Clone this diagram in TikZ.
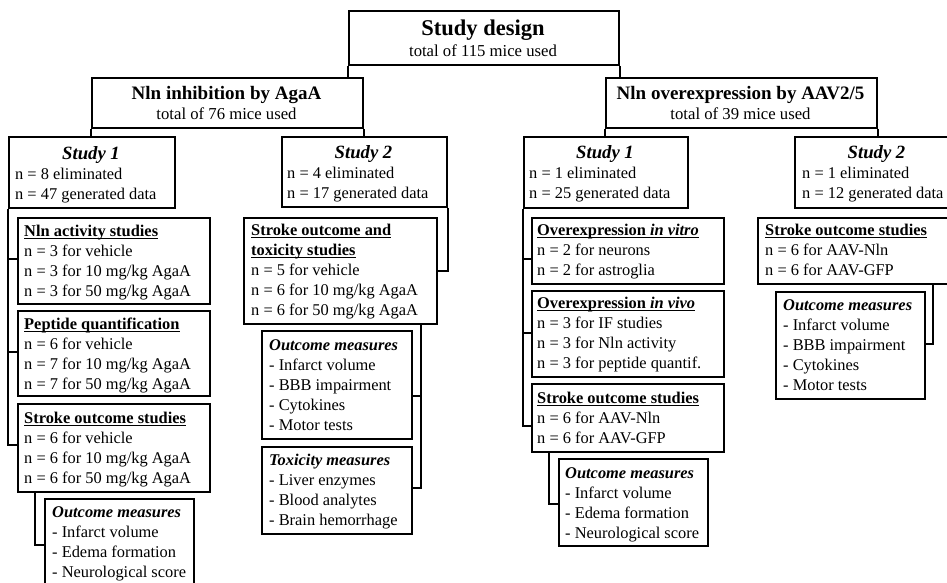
\documentclass[tikz,border=0pt]{standalone}
\usepackage{fontspec}
\setmainfont{Liberation Serif}
\newcommand\ulx[1]{\setbox0\hbox{#1}\rlap{\rule[-2.6pt]{\wd0}{1pt}}\box0}
\begin{document}
\begin{tikzpicture}[x=1pt,y=-1pt,
 box/.style={draw, line width=1.8pt, inner sep=0pt, anchor=north west},
 conn/.style={line width=1.6pt},
 body/.style={inner sep=0pt, anchor=north west, align=left, font=\fontsize{16.4}{20}\selectfont},
 ttl/.style={inner sep=0pt, anchor=base, font=\fontsize{18.7}{20}\selectfont\bfseries\itshape},
 head/.style={inner sep=0pt, anchor=base, font=\fontsize{19}{22}\selectfont\bfseries},
 sub/.style={inner sep=0pt, anchor=base, font=\fontsize{16.7}{20}\selectfont},
]
\useasboundingbox (0,0) rectangle (947,583);

% top level
\node[box, minimum width=270pt, minimum height=54pt] (sd) at (348,10) {};
\node[inner sep=0pt, anchor=base, font=\fontsize{22.5}{26}\selectfont\bfseries] (sdt) at (483,36) {Study design};
\node[sub] (sds) at (483,57) {total of 115 mice used};

\node[box, minimum width=271pt, minimum height=50pt] (inh) at (91,77) {};
\node[head] (inht) at (226.5,99.5) {Nln inhibition by AgaA};
\node[sub] (inhs) at (226.5,120) {total of 76 mice used};

\node[box, minimum width=271pt, minimum height=50pt] (ove) at (605,77) {};
\node[head] (ovet) at (740.5,99.5) {Nln overexpression by AAV2/5};
\node[sub] (oves) at (740.5,120) {total of 39 mice used};

% study boxes
\node[box, minimum width=166pt, minimum height=71pt] (s1L) at (8,136) {};
\node[ttl] (s1Lt) at (91,159) {Study 1};
\node[body] (s1Lb) at (15,165) {\strut n = 8 eliminated\\ n = 47 generated data};

\node[box, minimum width=165pt, minimum height=70pt] (s2L) at (281,136) {};
\node[ttl] (s2Lt) at (363.5,158) {Study 2};
\node[body] (s2Lb) at (287,164) {\strut n = 4 eliminated\\ n = 17 generated data};

\node[box, minimum width=164pt, minimum height=71pt] (s1R) at (523,136) {};
\node[ttl] (s1Rt) at (605,158) {Study 1};
\node[body] (s1Rb) at (529,164) {\strut n = 1 eliminated\\ n = 25 generated data};

\node[box, minimum width=170pt, minimum height=71pt] (s2R) at (794,136) {};
\node[ttl] (s2Rt) at (876.5,158) {Study 2};
\node[body] (s2Rb) at (802,164) {\strut n = 1 eliminated\\ n = 12 generated data};

% left study 1 sub boxes
\node[box, minimum width=192pt, minimum height=86pt] (actL) at (17,217) {};
\node[body] (actLb) at (24,222) {\strut\ulx{\textbf{Nln activity studies}}\\ n = 3 for vehicle\\ n = 3 for 10 mg/kg AgaA\\ n = 3 for 50 mg/kg AgaA};
\node[box, minimum width=192pt, minimum height=85pt] (pepL) at (17,310) {};
\node[body] (pepLb) at (24,315) {\strut\ulx{\textbf{Peptide quantification}}\\ n = 6 for vehicle\\ n = 7 for 10 mg/kg AgaA\\ n = 7 for 50 mg/kg AgaA};
\node[box, minimum width=192pt, minimum height=88pt] (stL) at (17,403) {};
\node[body] (stLb) at (24,409) {\strut\ulx{\textbf{Stroke outcome studies}}\\ n = 6 for vehicle\\ n = 6 for 10 mg/kg AgaA\\ n = 6 for 50 mg/kg AgaA};
\node[box, minimum width=149pt, minimum height=92pt] (omL) at (44,498) {};
\node[body] (omLb) at (52,503) {\strut\textbf{\textit{Outcome measures}}\\ - Infarct volume\\ - Edema formation\\ - Neurological score};

% left study 2 sub boxes
\node[box, minimum width=193pt, minimum height=106pt] (soL) at (243,217) {};
\node[body] (soLb) at (251,221) {\strut\ulx{\textbf{Stroke outcome and}}\\ \ulx{\textbf{toxicity studies}}\\ n = 5 for vehicle\\ n = 6 for 10 mg/kg AgaA\\ n = 6 for 50 mg/kg AgaA};
\node[box, minimum width=150pt, minimum height=108pt] (om2L) at (261,330) {};
\node[body] (om2Lb) at (269,336) {\strut\textbf{\textit{Outcome measures}}\\ - Infarct volume\\ - BBB impairment\\ - Cytokines\\ - Motor tests};
\node[box, minimum width=150pt, minimum height=87pt] (txL) at (261,446) {};
\node[body] (txLb) at (269,451) {\strut\textbf{\textit{Toxicity measures}}\\ - Liver enzymes\\ - Blood analytes\\ - Brain hemorrhage};

% right study 1 sub boxes
\node[box, minimum width=192pt, minimum height=66pt] (ivR) at (531,217) {};
\node[body] (ivRb) at (537,221) {\strut\ulx{\textbf{Overexpression \textit{in vitro}}}\\ n = 2 for neurons\\ n = 2 for astroglia};
\node[box, minimum width=192pt, minimum height=86pt] (vvR) at (531,290) {};
\node[body] (vvRb) at (537,294) {\strut\ulx{\textbf{Overexpression \textit{in vivo}}}\\ n = 3 for IF studies\\ n = 3 for Nln activity\\ n = 3 for peptide quantif.};
\node[box, minimum width=192pt, minimum height=68pt] (stR) at (531,383) {};
\node[body] (stRb) at (537,389) {\strut\ulx{\textbf{Stroke outcome studies}}\\ n = 6 for AAV-Nln\\ n = 6 for AAV-GFP};
\node[box, minimum width=149pt, minimum height=87pt] (omR) at (558,458) {};
\node[body] (omRb) at (565,464) {\strut\textbf{\textit{Outcome measures}}\\ - Infarct volume\\ - Edema formation\\ - Neurological score};

% right study 2 sub boxes
\node[box, minimum width=195pt, minimum height=66pt] (sR2) at (757,217) {};
\node[body] (sR2b) at (765,221) {\strut\ulx{\textbf{Stroke outcome studies}}\\ n = 6 for AAV-Nln\\ n = 6 for AAV-GFP};
\node[box, minimum width=149pt, minimum height=107pt] (omR2) at (775,291) {};
\node[body] (omR2b) at (783,296) {\strut\textbf{\textit{Outcome measures}}\\ - Infarct volume\\ - BBB impairment\\ - Cytokines\\ - Motor tests};

% connectors
\draw[conn] (sd.south west) -- (sd.south west |- inh.north);
\draw[conn] (sd.south east) -- (sd.south east |- ove.north);
\draw[conn] (inh.south west) -- (inh.south west |- s1L.north);
\draw[conn] (inh.south east) -- (inh.south east |- s2L.north);
\draw[conn] (ove.south west) -- (ove.south west |- s1R.north);
\draw[conn] (ove.south east) -- (ove.south east |- s2R.north);

% left study 1
\draw[conn] (s1L.south west) |- ([yshift=3pt]stL.west);
\draw[conn] (s1L.south west |- actL.west) ++(0,-2) -- ([yshift=2pt]actL.west);
\draw[conn] (s1L.south west |- pepL.west) ++(0,-1.5) -- ([yshift=1.5pt]pepL.west);
\draw[conn] ([xshift=18pt]stL.south west) |- (omL.west);

% left study 2
\draw[conn] (s2L.south east) |- (soL.east);
\coordinate (v2) at ([xshift=-17pt]soL.south east);
\draw[conn] (v2) |- ([yshift=2.5pt]txL.east);
\draw[conn] ([yshift=-11pt]om2L.east) -- ([yshift=-11pt]om2L.east -| v2);

% right study 1
\draw[conn] (s1R.south west) |- ([yshift=-8pt]stR.west);
\draw[conn] ([yshift=-8pt]ivR.west) -- ([yshift=-8pt]ivR.west -| s1R.south west);
\draw[conn] ([yshift=1pt]vvR.west) -- ([yshift=1pt]vvR.west -| s1R.south west);
\draw[conn] ([xshift=18pt]stR.south west) |- ([yshift=-1.5pt]omR.west);

% right study 2
\draw[conn] ([xshift=176pt]sR2.south west) |- ([yshift=1.5pt]omR2.east);
\end{tikzpicture}
\end{document}
